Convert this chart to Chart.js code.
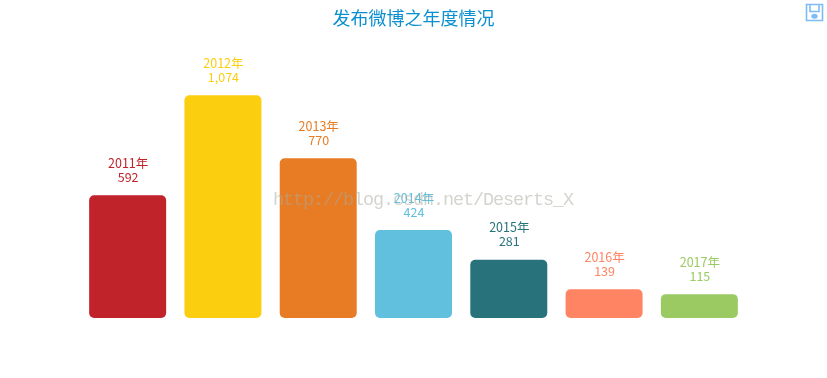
<!DOCTYPE html>
<html>
<head>
<meta charset="utf-8">
<script src="https://cdn.jsdelivr.net/npm/chart.js@4/dist/chart.umd.min.js"></script>
<style>
  html, body { margin: 0; padding: 0; background: #fff; overflow: hidden; }
  #wrap { position: relative; width: 827px; height: 378px; }
  #mark { position: absolute; left: 273px; top: 190px; font: 18.5px "Liberation Mono", monospace; letter-spacing: -1.1px; color: rgba(170, 170, 160, 0.5); white-space: pre; }
  #save { position: absolute; left: 805px; top: 3px; }
</style>
</head>
<body>
<div id="wrap">
  <canvas id="myChart" width="827" height="378"></canvas>
  <div id="mark">http://blog.csdn.net/Deserts_X</div>
  <svg id="save" width="19" height="19" viewBox="0 0 19 19" fill="none" stroke="#7dbcf5" stroke-width="1.6">
    <path d="M1.5 1.5H17.5V17.5H1.5Z"/>
    <path d="M5 1.5V8.5H14V1.5"/>
    <ellipse cx="9.5" cy="13.3" rx="2.4" ry="1.7" fill="#7dbcf5"/>
  </svg>
</div>
<script>
const years = ['2011年', '2012年', '2013年', '2014年', '2015年', '2016年', '2017年'];
const counts = [592, 1074, 770, 424, 281, 139, 115];
const colors = ['#c1232b', '#fcce10', '#e87c25', '#60c0dd', '#27727b', '#fe8463', '#9bca63'];

// year + value above each bar
const barLabels = {
  id: 'barLabels',
  afterDatasetsDraw(chart) {
    const c = chart.ctx;
    c.save();
    c.font = '12.5px "Noto Sans CJK SC", sans-serif';
    c.textAlign = 'center';
    c.textBaseline = 'middle';
    chart.getDatasetMeta(0).data.forEach((bar, i) => {
      c.fillStyle = colors[i];
      c.fillText(years[i], bar.x + 0.5, bar.y - 32);
      c.fillText(counts[i].toLocaleString('en-US'), bar.x + 0.5, bar.y - 18);
    });
    c.restore();
  }
};

new Chart(document.getElementById('myChart'), {
  type: 'bar',
  data: {
    labels: years,
    datasets: [{
      data: counts,
      backgroundColor: colors,
      borderRadius: 5,
      borderSkipped: false,
      categoryPercentage: 1,
      barPercentage: 0.808
    }]
  },
  options: {
    responsive: false,
    animation: false,
    layout: { padding: { left: 80, right: 80, bottom: 60 } },
    scales: {
      x: { display: false },
      y: { display: false, min: 0, max: 1196 }
    },
    plugins: {
      legend: { display: false },
      tooltip: { enabled: false },
      title: {
        display: true,
        text: '发布微博之年度情况',
        color: '#0a8fd0',
        font: { family: '"Noto Sans CJK SC", sans-serif', size: 18, weight: 'normal' },
        padding: { top: 7, bottom: 41.4 }
      }
    }
  },
  plugins: [barLabels]
});
</script>
</body>
</html>
